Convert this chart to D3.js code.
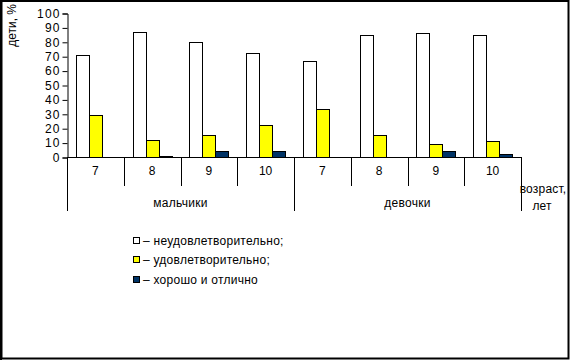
<!DOCTYPE html>
<html><head><meta charset="utf-8">
<script src="https://cdn.jsdelivr.net/npm/d3@7"></script>
<style>
html,body{margin:0;padding:0;background:#fff;}
svg{display:block;font-family:"Liberation Sans",Arial,sans-serif;}
</style></head><body>
<svg id="c" width="570" height="360"></svg>
<script>
const groups = ["мальчики", "девочки"];
const ages = ["7", "8", "9", "10"];
const seriesNames = ["неудовлетворительно;", "удовлетворительно;", "хорошо и отлично"];
const seriesColors = ["#ffffff", "#ffff00", "#003366"];
const boysUnsatisfactory = [71, 87, 80, 72];
const boysSatisfactory = [29, 12, 15, 22];
const boysGood = [0, 1, 4, 4];
const girlsUnsatisfactory = [67, 85, 86, 85];
const girlsSatisfactory = [33, 15, 9, 11];
const girlsGood = [0, 0, 4, 2];
const yTicks = [0, 10, 20, 30, 40, 50, 60, 70, 80, 90, 100];

(function () {
const values = [
  [boysUnsatisfactory, boysSatisfactory, boysGood],
  [girlsUnsatisfactory, girlsSatisfactory, girlsGood]
];
const cats = [];
groups.forEach((g, gi) => ages.forEach((a, ai) => {
  cats.push({key: gi + "-" + a, age: a, group: g, vals: values[gi].map(s => s[ai])});
}));

const svg = d3.select("#c");
// outer frame
svg.append("rect").attr("x", 1.5).attr("y", 1).attr("width", 567).attr("height", 357.5)
  .attr("fill", "none").attr("stroke", "#000").attr("stroke-width", 2);
svg.append("line").attr("x1", 1).attr("x2", 1).attr("y1", 0).attr("y2", 360).attr("stroke", "#000").attr("stroke-width", 2);

const pLeft = 67, pRight = 521, pTop = 13, pBottom = 157;
const x0 = d3.scaleBand().domain(cats.map(c => c.key)).range([pLeft, pRight]).paddingInner(0).paddingOuter(0);
const gw = x0.bandwidth();
const barW = gw / (3 + 1.37);
const gap = gw - 3 * barW;
const x1 = d3.scaleBand().domain(d3.range(3)).range([gap / 2, gap / 2 + 3 * barW]).padding(0);
const y = d3.scaleLinear().domain([0, 100]).range([pBottom, pTop]);

// bars
const g = svg.append("g");
cats.forEach(c => {
  c.vals.forEach((v, si) => {
    if (v <= 0) return;
    g.append("rect")
      .attr("x", Math.round(x0(c.key) + x1(si)) + 0.5)
      .attr("y", Math.round(y(v)) + 0.5)
      .attr("width", Math.round(barW))
      .attr("height", Math.round(y(0)) - Math.round(y(v)))
      .attr("fill", seriesColors[si])
      .attr("stroke", "#000").attr("stroke-width", 1);
  });
});

// y axis
const yAxis = d3.axisLeft(y).tickValues(yTicks).tickSize(5).tickPadding(3).tickFormat(d3.format("d"));
const ya = svg.append("g").attr("transform", `translate(${pLeft + 0.5},0.5)`).call(yAxis);
ya.select(".domain").attr("stroke", "#000");
ya.selectAll(".tick line").attr("stroke", "#000");
ya.selectAll("text").attr("font-size", 12).attr("fill", "#000").attr("letter-spacing", 1.2)
  .attr("dx", 1.2).attr("font-family", '"Liberation Sans",Arial,sans-serif');

// x axis line
svg.append("line").attr("x1", pLeft).attr("x2", pRight + 0.5).attr("y1", pBottom + 0.5).attr("y2", pBottom + 0.5).attr("stroke", "#000");

// category boundaries
const xa = svg.append("g");
const bounds = cats.map(c => x0(c.key)).concat([pRight]);
bounds.forEach((bx, i) => {
  const isOuter = (i % 4 === 0);
  xa.append("line").attr("x1", Math.round(bx) + 0.5).attr("x2", Math.round(bx) + 0.5)
    .attr("y1", pBottom).attr("y2", isOuter ? 211 : 186).attr("stroke", "#000");
});
cats.forEach(c => {
  xa.append("text").attr("x", x0(c.key) + gw / 2).attr("y", 175).attr("text-anchor", "middle")
    .attr("font-size", 12).text(c.age);
});
groups.forEach((gname, gi) => {
  const gx = left0(gi);
  xa.append("text").attr("x", gx).attr("y", 207).attr("text-anchor", "middle")
    .attr("font-size", 12).attr("letter-spacing", 0.3).text(gname);
});
function left0(gi) { return pLeft + (gi * 4 + 2) * gw; }

// axis titles
svg.append("text").attr("transform", "translate(16,4) rotate(-90)").attr("text-anchor", "end")
  .attr("font-size", 12).text("дети, %");
svg.append("text").attr("x", 543).attr("y", 193).attr("text-anchor", "middle").attr("font-size", 12).attr("letter-spacing", 0.2).text("возраст,");
svg.append("text").attr("x", 542).attr("y", 210).attr("text-anchor", "middle").attr("font-size", 12).text("лет");

// legend
const leg = svg.append("g");
seriesNames.forEach((n, i) => {
  const cy = 240 + i * 19.5;
  leg.append("rect").attr("x", 133.5).attr("y", Math.round(cy - 3.5) + 0.5).attr("width", 6).attr("height", 6)
    .attr("fill", seriesColors[i]).attr("stroke", "#000");
  leg.append("text").attr("x", 143).attr("y", cy + 4.5).attr("font-size", 12).attr("letter-spacing", 0.25).text("– " + n);
});
})();
</script>
</body></html>
